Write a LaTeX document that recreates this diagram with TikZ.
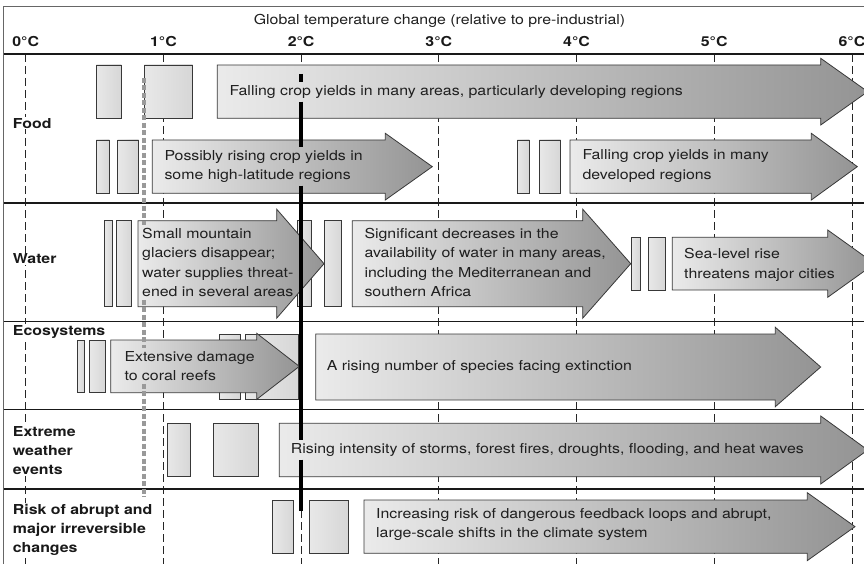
\documentclass[tikz,border=0pt]{standalone}
\usepackage{fontspec}
\setmainfont[FakeStretch=1.16]{TeX Gyre Heros}
\usetikzlibrary{positioning}

% big shaded arrow: left x, top y, bottom y, head x, tip x, head overhang
\newcommand{\riskarrow}[6]{%
  \shadedraw[arrowbody] (#1,#2) -- (#4,#2) -- (#4,{#2-#6}) -- (#5,{(#2+#3)/2})
    -- (#4,{#3+#6}) -- (#4,#3) -- (#1,#3) -- cycle;}

\begin{document}
\begin{tikzpicture}[x=1pt,y=-1pt,
  arrowbody/.style={left color=black!8, right color=black!42, draw=black!78, line width=0.8pt},
  impactbox/.style={left color=black!9, right color=black!16, draw=black!78, line width=0.8pt},
  impacttext/.style={anchor=west, align=left, inner sep=3pt, text=black!88,
    font=\fontsize{13.7}{19.3}\selectfont},
  rowlabel/.style={anchor=west, align=left, inner sep=1pt, fill=white, text=black!90,
    font=\fontsize{13.7}{19}\selectfont\bfseries},
  deglabel/.style={inner sep=1pt, text=black!90, font=\fontsize{13.7}{16}\selectfont\bfseries},
  degline/.style={black!85, line width=0.7pt, dash pattern=on 8pt off 4pt},
  rowline/.style={black!90, line width=1.2pt},
  twodeg/.style={black, line width=4pt},
  onedeg/.style={black!40, line width=4pt, dash pattern=on 5pt off 2.5pt}]
  \clip (0,0) rectangle (864,564);
  % Frame and header
  \draw[black!60, line width=1pt] (3.5,564) -- (3.5,6.7) -- (864,6.7);
  \node[inner sep=1pt, text=black!88, font=\fontsize{13.7}{16}\selectfont] (title) at (439.5,21)
    {Global temperature change (relative to pre-industrial)};
  \foreach \t in {0,...,6} {
    \node[deglabel] (deg\t) at ({25.7+137.7*\t},42) {\t°C};
    \draw[degline] ({25.7+137.7*\t},54) -- ({25.7+137.7*\t},564);
  }
  % Row separators
  \foreach \y in {54,203,321.5,409.5,489}
    \draw[rowline] (3.5,\y) -- (864,\y);
  % Food
  \shadedraw[impactbox] (96.3,65) rectangle (121.3,118.3);
  \shadedraw[impactbox] (144.3,65) rectangle (192.7,118.3);
  \riskarrow{217.3}{65}{118.3}{820.7}{867.7}{6.7}
  \shadedraw[impactbox] (96.3,140) rectangle (109.3,193.3);
  \shadedraw[impactbox] (117.7,140) rectangle (138.7,193.3);
  \riskarrow{152.3}{140}{193.3}{385.3}{432.3}{6.7}
  \shadedraw[impactbox] (517.3,140) rectangle (529.3,193.3);
  \shadedraw[impactbox] (539.3,140) rectangle (560.7,193.3);
  \riskarrow{570}{140}{193.3}{811.3}{857.3}{6.7}
  % Water
  \shadedraw[impactbox] (104.7,220.7) rectangle (112.3,306.7);
  \shadedraw[impactbox] (116.7,220.7) rectangle (131.3,306.7);
  \shadedraw[impactbox] (297,220.7) rectangle (311.7,306.7);
  \riskarrow{138}{220.7}{306.7}{276.7}{324}{11.5}
  \shadedraw[impactbox] (324.3,220.7) rectangle (341.7,306.7);
  \riskarrow{352.3}{220.7}{306.7}{582.7}{630.7}{11.5}
  \shadedraw[impactbox] (631,237.3) rectangle (640,290);
  \shadedraw[impactbox] (648,237.3) rectangle (665.7,290);
  \riskarrow{672.3}{237.3}{290}{827.7}{874.7}{7.3}
  % Ecosystems
  \shadedraw[impactbox] (77.3,340) rectangle (84.7,392.7);
  \shadedraw[impactbox] (89.3,340) rectangle (105.7,392.7);
  \shadedraw[impactbox] (219.3,334) rectangle (240,399.3);
  \shadedraw[impactbox] (245,334) rectangle (298.3,399.3);
  \riskarrow{110.7}{340}{392.7}{256.7}{299.3}{6.7}
  \riskarrow{315.7}{334}{400}{775.3}{820.7}{6.7}
  % Extreme weather events
  \shadedraw[impactbox] (167.3,423.3) rectangle (190.7,476.7);
  \shadedraw[impactbox] (213.3,423.3) rectangle (258.3,476.7);
  \riskarrow{279.3}{423.3}{476.7}{820.7}{867.7}{7.3}
  % Abrupt changes
  \shadedraw[impactbox] (272.7,500) rectangle (293.3,553.3);
  \shadedraw[impactbox] (309.3,500) rectangle (348.3,553.3);
  \riskarrow{364}{500}{553.3}{807.3}{855}{7.3}
  % Impact texts
  \node[impacttext] (fallTxt) at (226.3,92) {Falling crop yields in many areas, particularly developing regions};
  \node[impacttext] (possTxt) at (161.3,166.2) {Possibly rising crop yields in\\some high-latitude regions};
  \node[impacttext] (devTxt) at (579.3,166) {Falling crop yields in many\\developed regions};
  \node[impacttext] (smallTxt) at (139,262.5) {Small mountain\\glaciers disappear;\\water supplies threat-\\ened in several areas};
  \node[impacttext] (sigTxt) at (361.3,262.6) {Significant decreases in the\\availability of water in many areas,\\including the Mediterranean and\\southern Africa};
  \node[impacttext] (seaTxt) at (681,265) {Sea-level rise\\threatens major cities};
  \node[impacttext] (reefTxt) at (121.3,365.9) {Extensive damage\\to coral reefs};
  \node[impacttext] (specTxt) at (323.7,366.7) {A rising number of species facing extinction};
  \node[impacttext] (stormTxt) at (287.7,450) {Rising intensity of storms, forest fires, droughts, flooding, and heat waves};
  \node[impacttext] (loopTxt) at (373,524.7) {Increasing risk of dangerous feedback loops and abrupt,\\large-scale shifts in the climate system};
  % 1 and 2 degree marks
  \coordinate (oneTop) at (144.3,78);
  \coordinate (oneEnd) at (144.3,497);
  \coordinate (twoTop) at (300.5,74);
  \coordinate (twoEnd) at (300.5,510.7);
  \draw[onedeg] (oneTop) -- (oneTop |- smallTxt.north)
    (oneTop |- smallTxt.south) -- (oneTop |- reefTxt.north)
    (oneTop |- reefTxt.south) -- (oneEnd);
  \draw[twodeg] (twoTop) -- (twoTop |- fallTxt.north)
    (twoTop |- fallTxt.south) -- (twoTop |- possTxt.north)
    (twoTop |- possTxt.south) -- (twoTop |- stormTxt.north)
    (twoTop |- stormTxt.south) -- (twoEnd);
  % Row labels
  \node[rowlabel] (food) at (11.7,123.3) {Food};
  \node[rowlabel] (water) at (11.7,259) {Water};
  \node[rowlabel] (eco) at (11.7,331.7) {Ecosystems};
  \node[rowlabel] (weather) at (11.7,450.5) {Extreme\\weather\\events};
  \node[rowlabel] (abrupt) at (11.7,529.8) {Risk of abrupt and\\major irreversible\\changes};
\end{tikzpicture}
\end{document}
